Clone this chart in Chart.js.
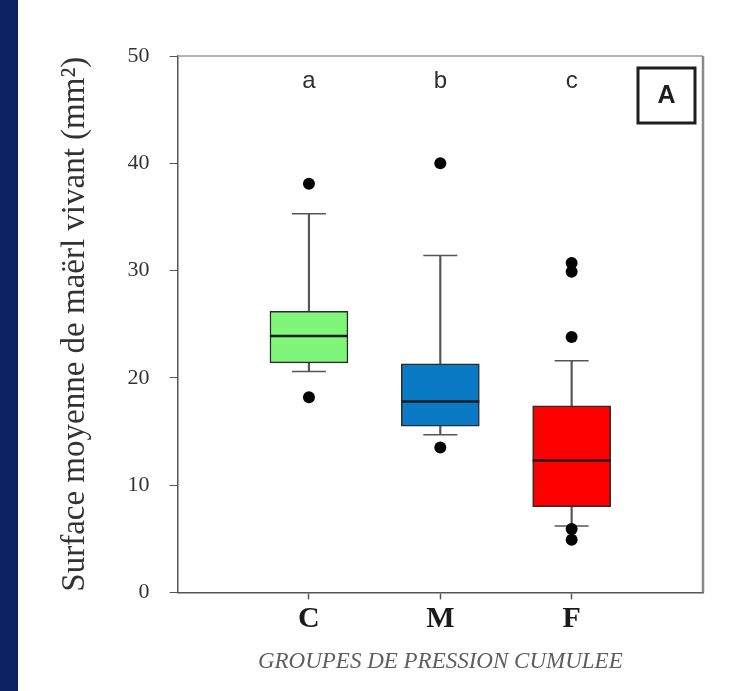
<!DOCTYPE html>
<html>
<head>
<meta charset="utf-8">
<script src="https://cdn.jsdelivr.net/npm/chart.js@4"></script>
<style>
  html, body { margin: 0; padding: 0; background: #fff; }
  body { width: 750px; height: 691px; overflow: hidden; position: relative; }
  #band { position: absolute; left: 0; top: 0; width: 18px; height: 691px; background: #0b2161; }
  #wrap { position: absolute; left: 18px; top: 0; width: 732px; height: 691px; }
</style>
</head>
<body>
<div id="band"></div>
<div id="wrap"><canvas id="c" width="732" height="691"></canvas></div>
<script>
// Pressure groups and their box-plot statistics (mm²)
const groups = ['C', 'M', 'F'];
const q1 = [21.4, 15.5, 8.0];
const medians = [23.9, 17.8, 12.3];
const q3 = [26.2, 21.3, 17.4];
const whiskerLow = [20.6, 14.7, 6.2];
const whiskerHigh = [35.3, 31.4, 21.6];
const outliers = [[38.1, 18.2], [40.0, 13.5], [30.7, 29.9, 23.8, 5.9, 4.9]];
const letters = ['a', 'b', 'c'];
const fills = ['#7ff57a', '#0a79c6', '#ff0000'];
const yTicks = [0, 10, 20, 30, 40, 50];

// empty slots on both sides so the groups sit at 1/4, 2/4, 3/4 of the width
const pad = arr => [null, ...arr, null];
const labels = ['', ...groups, ''];

const outlierPoints = [];
outliers.forEach((vals, i) => vals.forEach(v => outlierPoints.push({ x: groups[i], y: v })));

const framePlugin = {
  id: 'frame',
  beforeDatasetsDraw(chart) {
    const { ctx, chartArea: a } = chart;
    ctx.save();
    ctx.strokeStyle = '#9a9a9a';
    ctx.lineWidth = 1.5;
    ctx.beginPath();
    ctx.moveTo(a.left, a.top);
    ctx.lineTo(a.right, a.top);
    ctx.stroke();
    ctx.strokeStyle = '#8a8a8a';
    ctx.lineWidth = 2.5;
    ctx.beginPath();
    ctx.moveTo(a.right, a.top);
    ctx.lineTo(a.right, a.bottom);
    ctx.stroke();
    ctx.restore();
  }
};

const notesPlugin = {
  id: 'notes',
  afterDatasetsDraw(chart) {
    const { ctx, chartArea: a, scales } = chart;
    ctx.save();
    ctx.fillStyle = '#2e2e2e';
    ctx.font = '24px "Liberation Sans", Arial, sans-serif';
    ctx.textAlign = 'center';
    ctx.textBaseline = 'middle';
    letters.forEach((t, i) => {
      ctx.fillText(t, scales.x.getPixelForValue(i + 1), scales.y.getPixelForValue(47.6));
    });
    // panel tag
    const w = 57, h = 55;
    const x0 = a.right - 8 - w, y0 = a.top + 12;
    ctx.strokeStyle = '#1e1e1e';
    ctx.lineWidth = 3;
    ctx.strokeRect(x0, y0, w, h);
    ctx.fillStyle = '#1e1e1e';
    ctx.font = 'bold 25px "Liberation Sans", Arial, sans-serif';
    ctx.fillText('A', x0 + w / 2, y0 + h / 2 + 1);
    ctx.restore();
  }
};

new Chart(document.getElementById('c'), {
  type: 'bar',
  data: {
    labels,
    datasets: [
      {
        type: 'bar',
        data: pad(q1.map((v, i) => [v, q3[i]])),
        backgroundColor: pad(fills),
        borderColor: '#2b2b2b',
        borderWidth: 1.5,
        borderSkipped: false,
        barThickness: 78,
        grouped: false,
        order: 2
      },
      {
        type: 'bar',
        data: pad(q3.map((v, i) => [v, whiskerHigh[i]])),
        backgroundColor: '#555',
        barThickness: 1.5,
        grouped: false,
        order: 3
      },
      {
        type: 'bar',
        data: pad(whiskerLow.map((v, i) => [v, q1[i]])),
        backgroundColor: '#555',
        barThickness: 1.5,
        grouped: false,
        order: 3
      },
      {
        type: 'line',
        data: pad(medians),
        showLine: false,
        pointStyle: 'line',
        pointRadius: 39,
        pointBorderWidth: 2.5,
        pointBorderColor: '#1c1c1c',
        order: 1
      },
      {
        type: 'line',
        data: pad(whiskerHigh),
        showLine: false,
        pointStyle: 'line',
        pointRadius: 17,
        pointBorderWidth: 1.5,
        pointBorderColor: '#555',
        order: 3
      },
      {
        type: 'line',
        data: pad(whiskerLow),
        showLine: false,
        pointStyle: 'line',
        pointRadius: 17,
        pointBorderWidth: 1.5,
        pointBorderColor: '#555',
        order: 3
      },
      {
        type: 'line',
        data: outlierPoints,
        showLine: false,
        pointStyle: 'circle',
        pointRadius: 6,
        pointBorderWidth: 0,
        pointBackgroundColor: '#050505',
        order: 0
      }
    ]
  },
  options: {
    responsive: false,
    animation: false,
    events: [],
    layout: { padding: { top: 56, right: 47, bottom: 15, left: 38 } },
    plugins: { legend: { display: false }, tooltip: { enabled: false } },
    scales: {
      x: {
        type: 'category',
        offset: false,
        border: { color: '#555', width: 1.5 },
        grid: {
          offset: false,
          drawOnChartArea: false,
          drawTicks: true,
          tickLength: 7,
          tickWidth: 1.5,
          tickColor: c => (c.index === 0 || c.index === labels.length - 1) ? 'rgba(0,0,0,0)' : '#555'
        },
        ticks: {
          autoSkip: false,
          maxRotation: 0,
          padding: 2,
          color: '#1a1a1a',
          font: { family: '"Liberation Serif", "Times New Roman", serif', size: 30, weight: 'bold' }
        },
        title: {
          display: true,
          text: 'GROUPES DE PRESSION CUMULEE',
          color: '#5e5e5e',
          font: { family: '"Liberation Serif", "Times New Roman", serif', size: 23, style: 'italic' },
          padding: { top: 9, bottom: 0 }
        }
      },
      y: {
        min: 0,
        max: 50,
        afterBuildTicks: s => { s.ticks = yTicks.map(v => ({ value: v })); },
        border: { color: '#555', width: 1.5 },
        grid: { drawOnChartArea: false, tickLength: 8, tickColor: '#555' },
        ticks: {
          padding: 20,
          color: '#333',
          font: { family: '"Liberation Serif", "Times New Roman", serif', size: 22 }
        },
        title: {
          display: true,
          text: 'Surface moyenne de maërl vivant (mm²)',
          color: '#333',
          font: { family: '"Liberation Serif", "Times New Roman", serif', size: 33 },
          padding: { top: 0, bottom: 12 }
        }
      }
    }
  },
  plugins: [framePlugin, notesPlugin]
});
</script>
</body>
</html>
